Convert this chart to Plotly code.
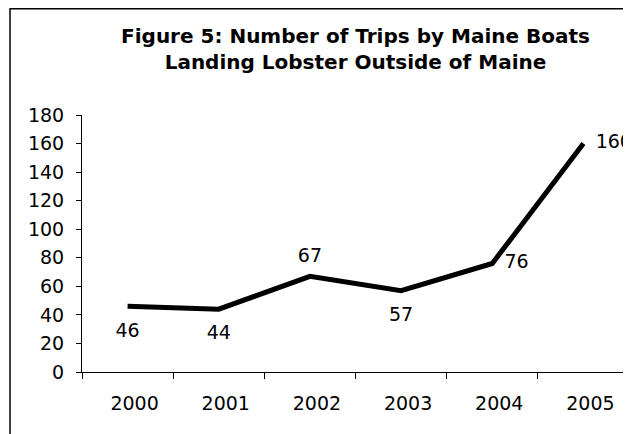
import plotly.graph_objects as go

years = ["2000", "2001", "2002", "2003", "2004", "2005"]
trips = [46, 44, 67, 57, 76, 160]
label_positions = ["bottom center", "bottom center", "top center",
                   "bottom center", "middle right", "middle right"]
y_ticks = [0, 20, 40, 60, 80, 100, 120, 140, 160, 180]

TICK_FONT = dict(family="DejaVu Sans", size=19, color="black")

# invisible marker sizes set the distance of each value label from its point
label_gap = [24 if p.startswith("bottom") else 13 if p.startswith("top") else 18
             for p in label_positions]

fig = go.Figure()
fig.add_trace(go.Scatter(
    x=years, y=trips,
    mode="lines+markers+text",
    line=dict(color="black", width=5),
    marker=dict(size=label_gap, color="rgba(0,0,0,0)", opacity=0,
                line=dict(width=0, color="rgba(0,0,0,0)")),
    text=[str(v) for v in trips],
    textposition=label_positions,
    textfont=TICK_FONT,
    cliponaxis=False,
    showlegend=False,
    hoverinfo="skip",
))

fig.update_layout(
    width=631, height=434,
    margin=dict(l=74, r=10, t=107, b=70),
    paper_bgcolor="white",
    plot_bgcolor="white",
    title=dict(
        text="Figure 5: Number of Trips by Maine Boats<br>Landing Lobster Outside of Maine",
        font=dict(family="DejaVu Sans", size=20, color="black", weight="bold"),
        x=0.5, xref="paper", xanchor="center",
        y=0.92, yref="container", yanchor="top",
    ),
    xaxis=dict(
        type="category",
        range=[-0.5, 5.5],
        tickson="boundaries",
        ticks="outside", ticklen=6, tickcolor="black",
        showline=True, linecolor="black", linewidth=1,
        showgrid=False, zeroline=False,
        tickfont=TICK_FONT,
        ticklabelstandoff=14,
        ticklabelshift=7,
    ),
    yaxis=dict(
        range=[0, 180],
        tickvals=y_ticks,
        ticks="outside", ticklen=5, tickcolor="black",
        showline=True, linecolor="black", linewidth=1,
        showgrid=False, zeroline=False,
        tickfont=TICK_FONT,
        ticklabelstandoff=8,
    ),
    shapes=[dict(
        type="rect", xref="paper", yref="paper",
        x0=-0.1316, x1=1.3, y0=-0.6, y1=1.4134,
        line=dict(color="black", width=1.5),
        fillcolor="rgba(0,0,0,0)", layer="above",
    )],
)

fig.write_html("out.html")
